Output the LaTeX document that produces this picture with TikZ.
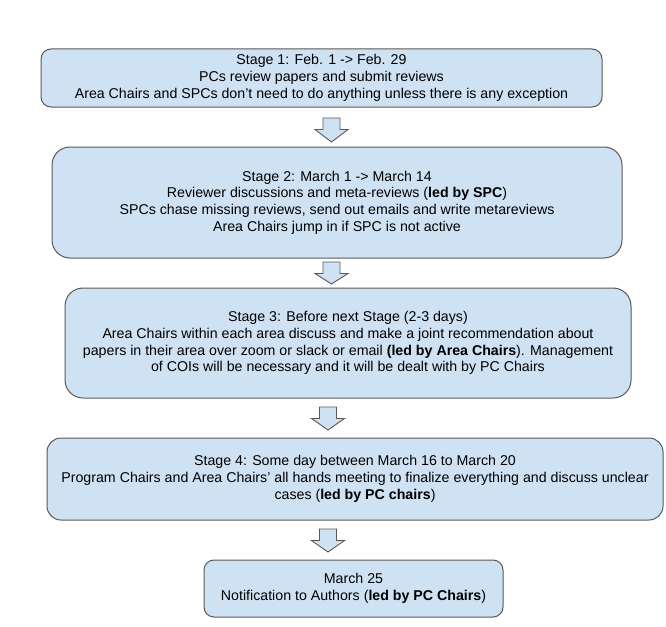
\documentclass[tikz,border=0pt]{standalone}
\usepackage{fontspec}
\setmainfont{Liberation Sans}
\definecolor{boxfill}{HTML}{CFE2F3}
\definecolor{boxline}{HTML}{595959}
\begin{document}
\begin{tikzpicture}[x=1pt,y=-1pt,
  stagebox/.style={draw=boxline, fill=boxfill, line width=1pt, align=center,
    inner sep=0pt, font=\fontsize{14.2}{16.7}\selectfont, text=black},
  flowarrow/.style={draw=boxline, fill=boxfill, line width=0.9pt, line join=miter}]
\useasboundingbox (0,0) rectangle (666,626);
\node[stagebox, minimum width=561, minimum height=58, rounded corners=10] (b1) at (321.5,78)
  {Stage 1: Feb. 1 -> Feb. 29\\
   PCs review papers and submit reviews\\
   Area Chairs and SPCs don’t need to do anything unless there is any exception};
\node[stagebox, minimum width=570, minimum height=111, rounded corners=18] (b2) at (337,202.5)
  {Stage 2: March 1 -> March 14\\
   Reviewer discussions and meta-reviews (\textbf{led by SPC})\\
   SPCs chase missing reviews, send out emails and write metareviews\\
   Area Chairs jump in if SPC is not active};
\node[stagebox, minimum width=566, minimum height=110, rounded corners=18] (b3) at (348,343)
  {Stage 3: Before next Stage (2-3 days)\\
   Area Chairs within each area discuss and make a joint recommendation about\\
   papers in their area over zoom or slack or email \textbf{(led by Area Chairs}). Management\\
   of COIs will be necessary and it will be dealt with by PC Chairs};
\node[stagebox, minimum width=616, minimum height=82, rounded corners=14] (b4) at (355,479)
  {Stage 4: Some day between March 16 to March 20\\
   Program Chairs and Area Chairs’ all hands meeting to finalize everything and discuss unclear\\
   cases (\textbf{led by PC chairs})};
\node[stagebox, minimum width=299, minimum height=57, rounded corners=10] (b5) at (353.5,588.5)
  {March 25\\
   Notification to Authors (\textbf{led by PC Chairs})};
\newcommand\stagearrow[3]{%
  \draw[flowarrow] (#1-8.5,#2) -- (#1+8.5,#2) -- (#1+8.5,#2+11.5) -- (#1+16.5,#2+11.5)
    -- (#1,#3) -- (#1-16.5,#2+11.5) -- (#1-8.5,#2+11.5) -- cycle;}
\stagearrow{331.5}{118}{142}
\stagearrow{331.5}{262}{284}
\stagearrow{328}{407}{430}
\stagearrow{328}{529}{552}
\end{tikzpicture}
\end{document}
